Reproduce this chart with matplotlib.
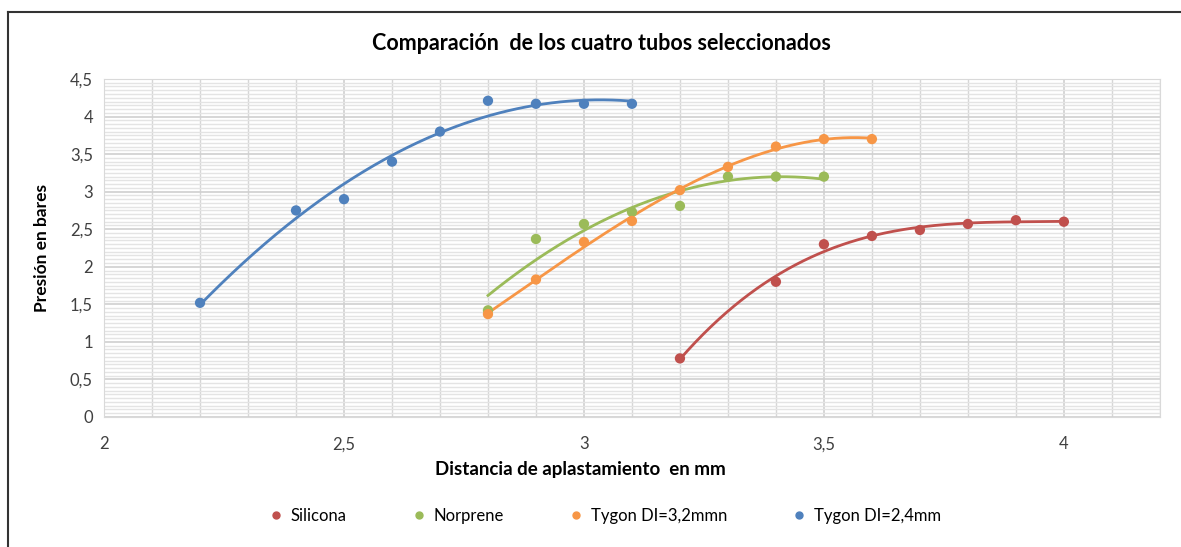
import matplotlib.pyplot as plt
import numpy as np
from matplotlib.lines import Line2D
from matplotlib.ticker import MultipleLocator, FuncFormatter

plt.rcParams['font.family'] = ['Lato', 'DejaVu Sans']

# datos de los cuatro tubos
silicona_x = [3.2, 3.4, 3.5, 3.6, 3.7, 3.8, 3.9, 4.0]
silicona_y = [0.78, 1.80, 2.30, 2.41, 2.49, 2.57, 2.62, 2.60]

norprene_x = [2.8, 2.9, 3.0, 3.1, 3.2, 3.3, 3.4, 3.5]
norprene_y = [1.42, 2.37, 2.57, 2.73, 2.81, 3.20, 3.20, 3.20]

tygon32_x = [2.8, 2.9, 3.0, 3.1, 3.2, 3.3, 3.4, 3.5, 3.6]
tygon32_y = [1.37, 1.83, 2.33, 2.61, 3.02, 3.33, 3.60, 3.70, 3.70]

tygon24_x = [2.2, 2.4, 2.5, 2.6, 2.7, 2.8, 2.9, 3.0, 3.1]
tygon24_y = [1.52, 2.75, 2.90, 3.40, 3.80, 4.21, 4.17, 4.17, 4.17]

series = [
    ('Silicona', silicona_x, silicona_y, '#C0504D', 3),
    ('Norprene', norprene_x, norprene_y, '#9BBB59', 2),
    ('Tygon DI=3,2mmn', tygon32_x, tygon32_y, '#F79646', 3),
    ('Tygon DI=2,4mm', tygon24_x, tygon24_y, '#4F81BD', 2),
]

fig = plt.figure(figsize=(11.81, 5.47), dpi=100)
ax = fig.add_axes([0.0881, 0.2377, 0.894, 0.6179])

handles = []
for name, xs, ys, color, grado in series:
    ax.scatter(xs, ys, color=color, s=55, zorder=3, edgecolors='none')
    # linea de tendencia polinomica
    coef = np.polyfit(xs, ys, grado)
    xx = np.linspace(min(xs), max(xs), 200)
    ax.plot(xx, np.polyval(coef, xx), color=color, lw=2, zorder=2)
    handles.append(Line2D([], [], marker='o', ls='none', color=color,
                          markersize=5, label=name))

ax.set_xlim(2, 4.2)
ax.set_ylim(0, 4.5)
ax.xaxis.set_major_locator(MultipleLocator(0.5))
ax.xaxis.set_minor_locator(MultipleLocator(0.1))
ax.yaxis.set_major_locator(MultipleLocator(0.5))
ax.yaxis.set_minor_locator(MultipleLocator(0.05))

coma = FuncFormatter(lambda v, p: ('%g' % v).replace('.', ','))
ax.xaxis.set_major_formatter(coma)
ax.yaxis.set_major_formatter(coma)

ax.grid(which='major', color='#D0D0D0', lw=1.2)
ax.grid(which='minor', axis='x', color='#D6D6D6', lw=1.0)
ax.grid(which='minor', axis='y', color='#E4E4E4', lw=1.0)
ax.set_axisbelow(True)
for s in ax.spines.values():
    s.set_color('#D9D9D9')

ax.tick_params(which='both', length=0, labelsize=12, colors='#404040')
ax.tick_params(axis='x', pad=14)
ax.tick_params(axis='y', pad=8)

fig.text(601 / 1181, 1 - 43 / 547, 'Comparación  de los cuatro tubos seleccionados',
         fontsize=15.5, fontweight='bold', ha='center', va='center')
fig.text(580 / 1181, 1 - 469 / 547, 'Distancia de aplastamiento  en mm',
         fontsize=13.5, fontweight='bold', ha='center', va='center')
ax.set_ylabel('Presión en bares', fontsize=12.5, fontweight='bold', labelpad=14)

fig.legend(handles=handles, loc='center', bbox_to_anchor=(0.508, 0.057),
           ncol=4, frameon=False, fontsize=12, handletextpad=-0.1,
           columnspacing=3.3)

# marco exterior del grafico
fig.add_artist(Line2D([8 / 1181, 8 / 1181], [0, 1 - 12 / 547], color='#333333',
                      lw=1.5, transform=fig.transFigure))
fig.add_artist(Line2D([8 / 1181, 1], [1 - 12 / 547, 1 - 12 / 547],
                      color='#333333', lw=1.5, transform=fig.transFigure))

fig.savefig('out.png', dpi=100)
